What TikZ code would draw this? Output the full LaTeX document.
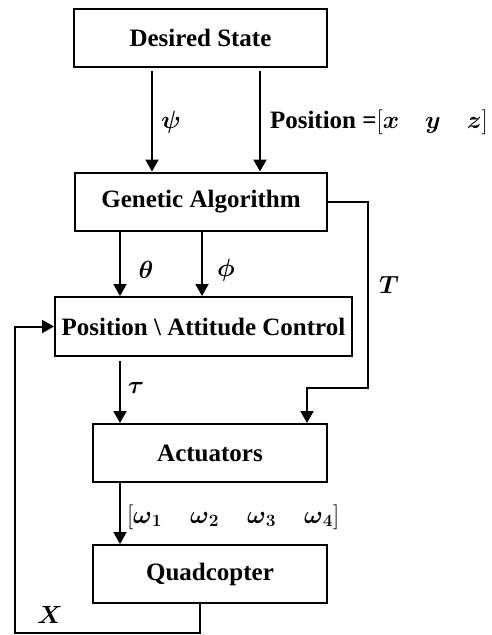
\documentclass[tikz,border=0pt]{standalone}
\usepackage{amsmath,amssymb}
\usepackage{fontspec}
\setmainfont{Liberation Serif}
\usepackage{tikz}
\usetikzlibrary{arrows.meta,positioning}

\begin{document}
\begin{tikzpicture}[x=1pt,y=-1pt,
      line width=2pt,
      box/.style={draw,line width=2pt,align=center,inner sep=0pt,
                  minimum height=58pt,font=\bfseries\fontsize{25}{29}\selectfont},
      lbl/.style={inner sep=0pt,font=\bfseries\fontsize{25}{29}\selectfont},
      arr/.style={-{Triangle[length=12pt,width=13pt]}}]
    \useasboundingbox (0,0) rectangle (491,635);

    \node[box,minimum width=253pt] (desired) at (200.5,38) {Desired State};
    \node[box,minimum width=252pt] (genetic) at (201,201.5) {Genetic Algorithm};
    \node[box,minimum width=297pt,minimum height=59pt] (control) at (203.5,326.5) {Position \textbackslash\ Attitude Control};
    \node[box,minimum width=234pt] (actuators) at (210,453) {Actuators};
    \node[box,minimum width=234pt] (quad) at (210,574) {Quadcopter};

    \draw[arr] ([xshift=-48.5pt,yshift=-3pt]desired.south) -- ([xshift=-48.5pt]desired.south |- genetic.north);
    \draw[arr] ([xshift=59.5pt,yshift=-3pt]desired.south) -- ([xshift=59.5pt]desired.south |- genetic.north);
    \node[lbl] (psi) at (171,122) {$\boldsymbol{\psi}$};
    \node[lbl,anchor=west] (pos) at (269,122) {Position =$[\boldsymbol{x}\hspace{26pt}\boldsymbol{y}\hspace{26pt}\boldsymbol{z}]$};

    \draw[arr] ([xshift=-81pt]genetic.south) -- ([xshift=-81pt]genetic.south |- control.north);
    \draw[arr] ([xshift=1pt]genetic.south) -- ([xshift=1pt]genetic.south |- control.north);
    \node[lbl] (theta) at (146,270) {$\boldsymbol{\theta}$};
    \node[lbl] (phi) at (226,270) {$\boldsymbol{\phi}$};

    \draw[arr] (genetic.east) -| (368,388) -| ([xshift=97pt]actuators.north);
    \node[lbl] (thrust) at (389,285) {$\boldsymbol{T}$};

    \draw[arr] ([xshift=-83.5pt,yshift=-4pt]control.south) -- ([xshift=-83.5pt]control.south |- actuators.north);
    \node[lbl] (tau) at (136,388) {$\boldsymbol{\tau}$};

    \draw[arr] ([xshift=-90pt]actuators.south) -- ([xshift=-90pt]quad.north);
    \node[lbl,anchor=west] (omega) at (126,517) {$[\boldsymbol{\omega}_{\boldsymbol{1}}\hspace{28pt}\boldsymbol{\omega}_{\boldsymbol{2}}\hspace{28pt}\boldsymbol{\omega}_{\boldsymbol{3}}\hspace{28pt}\boldsymbol{\omega}_{\boldsymbol{4}}]$};

    \draw[arr] ([xshift=-10pt]quad.south) |- (15,633) |- (control.west);
    \node[lbl] (xfb) at (50,615) {$\boldsymbol{X}$};
  \end{tikzpicture}
\end{document}
